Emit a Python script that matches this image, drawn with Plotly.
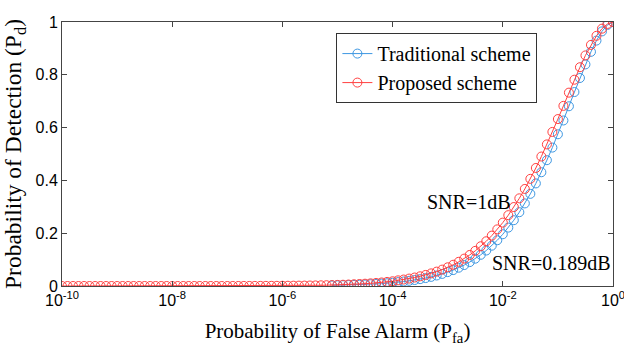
import plotly.graph_objects as go

# log10 of the false-alarm probability grid
pfa_exp = [
    -10.0, -9.9, -9.8, -9.7, -9.6, -9.5, -9.4, -9.3, -9.2, -9.1,
    -9.0, -8.9, -8.8, -8.7, -8.6, -8.5, -8.4, -8.3, -8.2, -8.1,
    -8.0, -7.9, -7.8, -7.7, -7.6, -7.5, -7.4, -7.3, -7.2, -7.1,
    -7.0, -6.9, -6.8, -6.7, -6.6, -6.5, -6.4, -6.3, -6.2, -6.1,
    -6.0, -5.9, -5.8, -5.7, -5.6, -5.5, -5.4, -5.3, -5.2, -5.1,
    -5.0, -4.9, -4.8, -4.7, -4.6, -4.5, -4.4, -4.3, -4.2, -4.1,
    -4.0, -3.9, -3.8, -3.7, -3.6, -3.5, -3.4, -3.3, -3.2, -3.1,
    -3.0, -2.9, -2.8, -2.7, -2.6, -2.5, -2.4, -2.3, -2.2, -2.1,
    -2.0, -1.9, -1.8, -1.7, -1.6, -1.5, -1.4, -1.3, -1.2, -1.1,
    -1.0, -0.9, -0.8, -0.7, -0.6, -0.5, -0.4, -0.3, -0.2, -0.1,
    0.0,
]

# Proposed scheme (SNR = 1 dB)
pd_proposed = [
    0.0, 0.0, 0.0, 0.0, 0.0, 0.0, 0.0, 0.0, 0.0, 0.0,
    0.0, 0.0, 0.0, 0.0, 0.0, 0.0, 0.0, 0.0, 0.0, 0.0,
    0.0, 0.0, 0.0, 0.0, 0.0, 0.0, 0.0, 0.0, 0.0, 0.0,
    0.0, 0.0001, 0.0001, 0.0002, 0.0002, 0.0003, 0.0004, 0.0005, 0.0006, 0.0007,
    0.0009, 0.0010, 0.0012, 0.0014, 0.0016, 0.0019, 0.0022, 0.0026, 0.0030, 0.0035,
    0.0041, 0.0048, 0.0056, 0.0065, 0.0075, 0.0087, 0.0101, 0.0116, 0.0134, 0.0155,
    0.0179, 0.0214, 0.0245, 0.0281, 0.0321, 0.0367, 0.0419, 0.0478, 0.0545, 0.0621,
    0.0708, 0.0805, 0.0916, 0.1038, 0.1176, 0.1331, 0.1506, 0.1695, 0.1908, 0.2145,
    0.2401, 0.2683, 0.2991, 0.3321, 0.3677, 0.4059, 0.4471, 0.4904, 0.5363, 0.5836,
    0.6323, 0.6823, 0.7324, 0.7814, 0.8287, 0.8734, 0.9133, 0.9477, 0.9747, 0.9927,
    1.0,
]

# Traditional scheme (SNR = 0.189 dB), from 10^-5.1 upward
trad_start = 49
pd_traditional = [
    0.0022, 0.0026, 0.0031, 0.0036, 0.0042, 0.0049, 0.0057, 0.0067, 0.0078, 0.0090,
    0.0105, 0.0123, 0.0148, 0.0171, 0.0197, 0.0227, 0.0261, 0.0301, 0.0346, 0.0398,
    0.0458, 0.0526, 0.0603, 0.0693, 0.0793, 0.0906, 0.1035, 0.1182, 0.1344, 0.1527,
    0.1733, 0.1960, 0.2212, 0.2492, 0.2796, 0.3128, 0.3490, 0.3886, 0.4309, 0.4765,
    0.5243, 0.5747, 0.6270, 0.6808, 0.7347, 0.7879, 0.8394, 0.8870, 0.9296, 0.9644,
    0.9890, 1.0,
]

x_tick_exp = [-10, -8, -6, -4, -2, 0]
y_ticks = [0, 0.2, 0.4, 0.6, 0.8, 1]
y_tick_text = ["0", "0.2", "0.4", "0.6", "0.8", "1"]

BLUE = "#3d97e2"
RED = "#ff4040"
SERIF = "Liberation Serif"
SANS = "Liberation Sans"

x_all = [10 ** e for e in pfa_exp]
x_trad = x_all[trad_start:]

fig = go.Figure()
fig.add_trace(go.Scatter(
    x=x_trad, y=pd_traditional, name="Traditional scheme",
    mode="lines+markers",
    line=dict(color=BLUE, width=1),
    marker=dict(symbol="circle-open", size=9, color=BLUE, line=dict(width=1)),
))
fig.add_trace(go.Scatter(
    x=x_all, y=pd_proposed, name="Proposed scheme",
    mode="lines+markers",
    line=dict(color=RED, width=1),
    marker=dict(symbol="circle-open", size=9, color=RED, line=dict(width=1)),
))

fig.update_xaxes(
    type="log", range=[-10, 0], automargin=False,
    tickvals=[10 ** e for e in x_tick_exp],
    ticktext=["10<sup>%d</sup>" % e for e in x_tick_exp],
    ticks="inside", ticklen=5, tickcolor="#444",
    showline=True, linecolor="#444", linewidth=1, mirror="ticks",
    showgrid=False, zeroline=False, ticklabeloverflow="allow",
    tickfont=dict(family=SANS, size=16, color="black"),
    title=dict(text="Probability of False Alarm (P<sub>fa</sub>)",
               font=dict(family=SERIF, size=21, color="black")),
)
fig.update_yaxes(
    range=[0, 1], automargin=False,
    tickvals=y_ticks, ticktext=y_tick_text,
    ticks="inside", ticklen=5, tickcolor="#444",
    showline=True, linecolor="#444", linewidth=1, mirror="ticks",
    showgrid=False, zeroline=False,
    tickfont=dict(family=SANS, size=16, color="black"),
    title=dict(text="Probability of Detection (P<sub>d</sub>)",
               font=dict(family=SERIF, size=23.5, color="black")),
)

fig.add_annotation(x=0.739, y=0.318, xref="paper", yref="paper",
                   xanchor="center", yanchor="middle",
                   text="SNR=1dB", showarrow=False,
                   font=dict(family=SERIF, size=20, color="black"))
fig.add_annotation(x=0.889, y=0.087, xref="paper", yref="paper",
                   xanchor="center", yanchor="middle",
                   text="SNR=0.189dB", showarrow=False,
                   font=dict(family=SERIF, size=20, color="black"))

fig.update_layout(
    width=624, height=357,
    margin=dict(l=62, r=11, t=22, b=71),
    paper_bgcolor="white", plot_bgcolor="white",
    showlegend=True,
    legend=dict(
        x=0.498, y=0.958, xanchor="left", yanchor="top",
        bgcolor="white", bordercolor="#333", borderwidth=1,
        font=dict(family=SERIF, size=20, color="black"),
        itemwidth=30, tracegroupgap=0,
    ),
)

fig.write_html("out.html")
